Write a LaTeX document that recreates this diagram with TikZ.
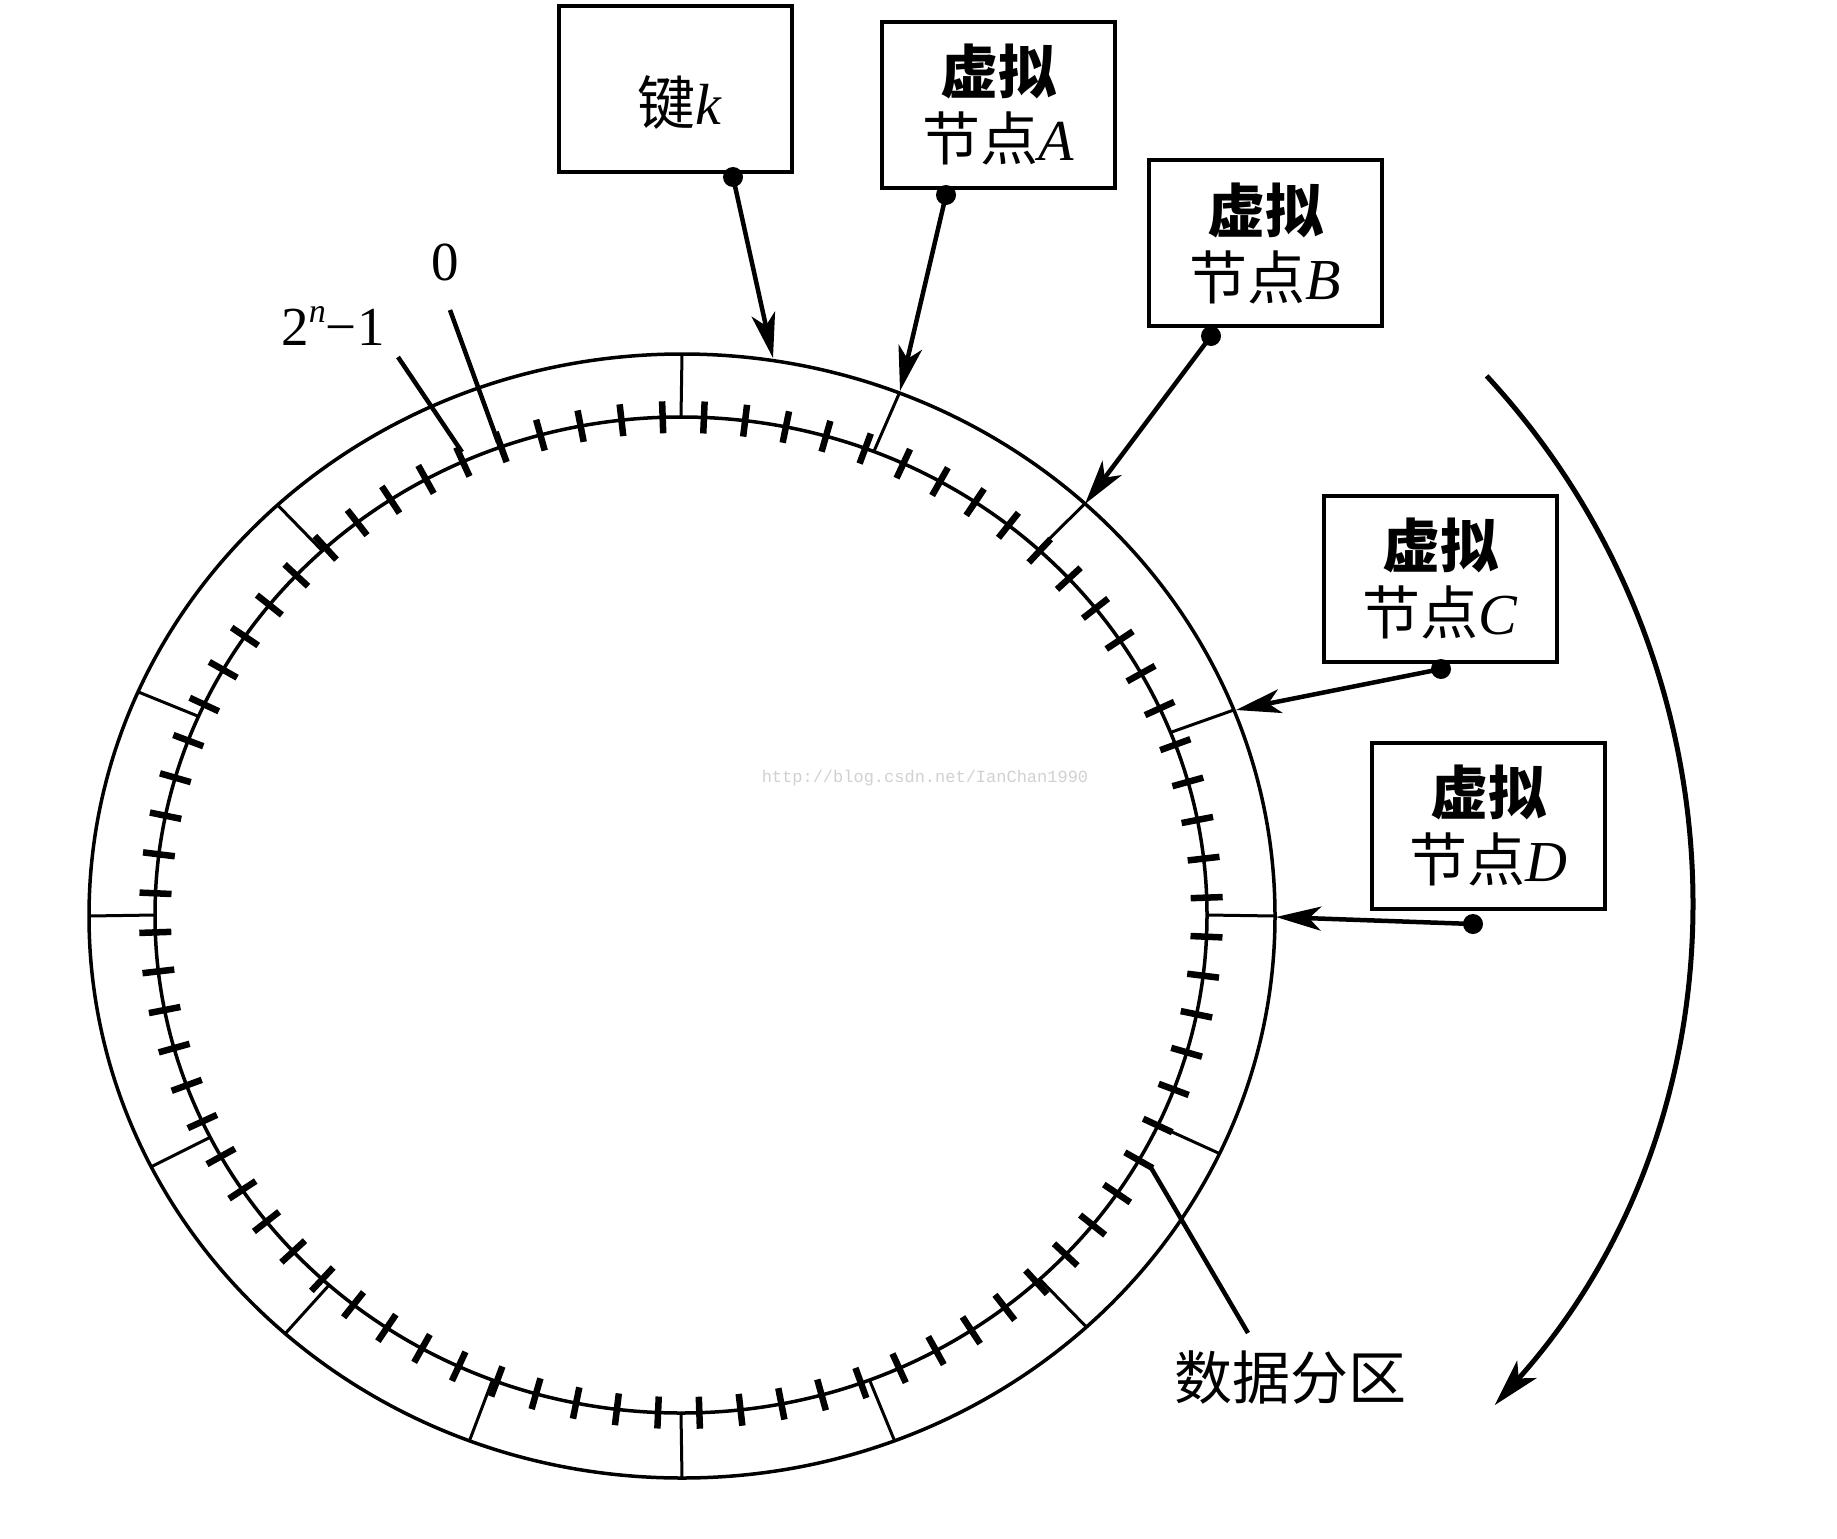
\documentclass[tikz,border=0pt]{standalone}
\usepackage{fontspec}
\setmainfont{Liberation Serif}
\newfontfamily\cjk{Noto Sans CJK SC}
\newfontfamily\wmfont{Liberation Mono}
\usetikzlibrary{arrows.meta}
\begin{document}
\begin{tikzpicture}[x=1pt,y=-1pt,
  ring/.style={line width=3.5pt},
  part/.style={line width=3pt},
  tickmark/.style={line width=6.5pt},
  vbox/.style={draw,line width=4pt,minimum width=233pt,minimum height=166pt,inner sep=0pt,align=center,font=\fontsize{58}{67}\selectfont},
  boxtext/.style={inner sep=0pt,font=\fontsize{58}{67}\selectfont},
  dotn/.style={circle,fill,inner sep=0pt,minimum size=20pt},
  pointer/.style={line width=4.5pt,-{Stealth[length=45pt,width=24pt,inset=12pt]}},
  leader/.style={line width=4.5pt},
  lbl/.style={font=\fontsize{55}{60}\selectfont,inner sep=0pt}
]
\fill[white] (0,0) rectangle (1837,1539);
\useasboundingbox (0,0) rectangle (1837,1539);

% ring
\draw[ring] (682,916) ellipse [x radius=593, y radius=562];
\draw[ring] (681,915) ellipse [x radius=526, y radius=498];

% partitions
\foreach \t in {90,68.5,47.2,21.5,0,-25,-47,-69,-90,-111,-132,-153.5,180,156.5,133}
  \draw[part] ({681+526*cos(\t)},{915-498*sin(\t)}) -- ({682+593*cos(\t)},{916-562*sin(\t)});

% ticks
\foreach \k in {0,...,79} {
  \pgfmathsetmacro\t{2+4.5*\k}
  \draw[tickmark] ({681+510*cos(\t)},{915-482*sin(\t)}) -- ({681+542*cos(\t)},{915-514*sin(\t)});
}

% watermark
\node[text=black!18,font=\wmfont\fontsize{17}{20}\selectfont] (wm) at (925,778) {http://blog.csdn.net/IanChan1990};

% boxes
\node[vbox] (key) at (675,89) {};
\node[boxtext] (keytext) at (680,103) {{\cjk 键}\textit{k}};
\node[vbox] (va) at (998,104.5) {{\cjk\bfseries 虚拟}\\{\cjk 节点}\textit{A}};
\node[vbox] (vb) at (1265,243) {{\cjk\bfseries 虚拟}\\{\cjk 节点}\textit{B}};
\node[vbox] (vc) at (1440.5,578.5) {{\cjk\bfseries 虚拟}\\{\cjk 节点}\textit{C}};
\node[vbox] (vd) at (1488.5,825.5) {{\cjk\bfseries 虚拟}\\{\cjk 节点}\textit{D}};

% dots
\node[dotn] (dk) at (733,177) {};
\node[dotn] (da) at (946,195) {};
\node[dotn] (db) at (1211,336) {};
\node[dotn] (dc) at (1441,669) {};
\node[dotn] (dd) at (1473,924) {};

% arrow targets on the ring
\coordinate (tk) at (773,358);
\coordinate (ta) at (900,391);
\coordinate (tb) at (1085,504);
\coordinate (tc) at (1236,710);
\coordinate (td) at (1276,917);

\draw[pointer] (dk.center) -- (tk);
\draw[pointer] (da.center) -- (ta);
\draw[pointer] (db.center) -- (tb);
\draw[pointer] (dc.center) -- (tc);
\draw[pointer] (dd.center) -- (td);

% labels 0 and 2^n-1
\node[lbl] (zero) at (445,262) {0};
\node[lbl] (top) at (333,326) {2\raisebox{0.42em}{\fontsize{34}{34}\selectfont\textit{n}}−1};
\coordinate (z1) at (450,310);
\coordinate (z2) at (498,442);
\coordinate (m1) at (398,357);
\coordinate (m2) at (462,452);
\draw[leader] (z1) -- (z2);
\draw[leader] (m1) -- (m2);

% data partition label
\node[font=\cjk\fontsize{58}{60}\selectfont,inner sep=0pt] (dp) at (1290,1378) {数据分区};
\coordinate (dpa) at (1150,1166);
\coordinate (dpb) at (1248,1333);
\draw[leader] (dpa) -- (dpb);

% direction arc
\coordinate (arcs) at (1486.6,375.9);
\draw[line width=5pt,-{Stealth[length=48pt,width=26pt,inset=12pt]}] (arcs) arc[start angle=-42.8,end angle=41.9,radius=764];
\end{tikzpicture}
\end{document}
